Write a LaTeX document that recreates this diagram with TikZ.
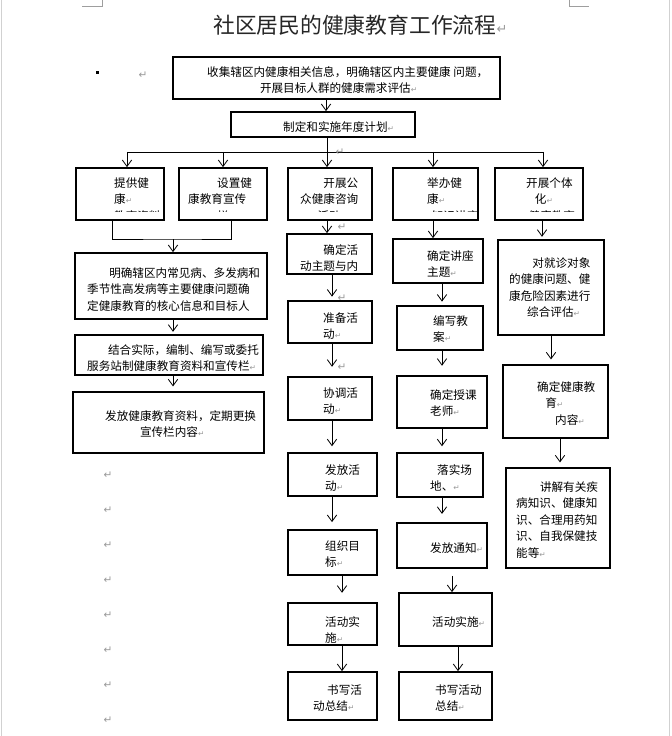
\documentclass[tikz,border=0pt]{standalone}
\usepackage{fontspec}
\setmainfont{Noto Sans CJK SC}
\newfontfamily\dvsans{DejaVu Sans}
\usetikzlibrary{arrows.meta,calc}
\newcommand\parmk{{\dvsans\fontsize{6.5pt}{6.5pt}\selectfont\color{black!40}↵}}
\newcommand\bigparmk{{\dvsans\fontsize{9pt}{9pt}\selectfont\color{black!40}↵}}
\tikzset{
  bx/.style={draw=black,line width=1.5pt,inner sep=0pt},
  sz/.style 2 args={minimum width=#1*0.03cm,minimum height=#2*0.03cm},
  tx/.style={font=\fontsize{9.9pt}{14pt}\selectfont,align=left,inner sep=0pt,anchor=north west},
  ln/.style={draw=black,line width=.8pt},
  arr/.style={draw=black,line width=.8pt,-{Straight Barb[length=5.5pt,width=8pt,line width=.7pt]}},
  pgedge/.style={draw=black!18,line width=1.4pt},
  crop/.style={draw=black!38,line width=.8pt},
}
\begin{document}
\begin{tikzpicture}[x=0.03cm,y=-0.03cm]
\useasboundingbox (0,0) rectangle (671,736);
% ---- page
\draw[pgedge] (1.5,0) -- (1.5,736) (669.5,0) -- (669.5,736);
\draw[crop] (82,6) -- (102,6) -- (102,0) (569,0) -- (569,6) -- (589,6);
\node[font=\fontsize{18.6pt}{20pt}\selectfont,text=black!85,anchor=west,inner sep=0pt] (title) at (213,25) {社区居民的健康教育工作流程{\dvsans\fontsize{11pt}{11pt}\selectfont\color{black!40}↵}};
\node[fill=black,inner sep=0pt,minimum size=0.09cm] (sq) at (97,73) {};
\node[inner sep=0pt] (sqm) at (143,75) {\bigparmk};
\foreach \y [count=\i] in {475,510,545,580,615,650,685,720}
  \node[inner sep=0pt] (pl\i) at (108,\y) {\bigparmk};

% ---- survey and plan
\node[bx,sz={327}{42}] (b1) at (336.5,78) {};
\node[tx] (b1t) at (207,66.5) {收集辖区内健康相关信息，明确辖区内主要健康 问题，\\\hspace*{4.55em}开展目标人群的健康需求评估\parmk};
\node[bx,sz={184}{25}] (b2) at (323,124.5) {};
\node[tx] (b2t) at (283,121.5) {制定和实施年度计划\parmk};
\draw[arr] (b1.south -| 326,0) -- (b2.north -| 326,0);
\coordinate (fork) at (327,152);
\draw[ln] (b2.south -| fork) -- (fork);
\draw[ln] (fork -| 127,0) -- (fork -| 543,0);

% ---- five kinds of work
\node[bx,sz={88}{52}] (c1) at (120,194) {};
\node[bx,sz={88}{52}] (c2) at (223,194) {};
\node[bx,sz={84}{52}] (c3) at (330,194) {};
\node[bx,sz={85}{52}] (c4) at (435.5,194) {};
\node[bx,sz={88}{52}] (c5) at (539,194) {};
\foreach \b/\x in {c1/127,c2/223,c3/327,c4/433,c5/543}
  \draw[arr] (fork -| \x,0) -- (\b.north -| \x,0);
% text boxes cut their last line off
\begin{scope}
  \clip ($(c1.south west)+(2,-9)$) rectangle ($(c1.north east)+(-2,2)$);
  \node[tx] (c1t) at (114,177.5) {提供健\\康\parmk\\教育资料};
\end{scope}
\begin{scope}
  \clip ($(c2.south west)+(2,-9)$) rectangle ($(c2.north east)+(-2,2)$);
  \node[tx] (c2t) at (188,177.5) {\hspace*{2.5em}设置健\\康教育宣传\\\hspace*{2.5em}栏};
\end{scope}
\begin{scope}
  \clip ($(c3.south west)+(2,-9)$) rectangle ($(c3.north east)+(-2,2)$);
  \node[tx] (c3t) at (300,177.5) {\hspace*{2em}开展公\\众健康咨询\\\hspace*{1.5em}活动};
\end{scope}
\begin{scope}
  \clip ($(c4.south west)+(2,-9)$) rectangle ($(c4.north east)+(-2,2)$);
  \node[tx] (c4t) at (427,177.5) {举办健\\康\parmk\\\hspace*{0.4em}知识讲座};
\end{scope}
\begin{scope}
  \clip ($(c5.south west)+(2,-9)$) rectangle ($(c5.north east)+(-2,2)$);
  \node[tx] (c5t) at (526,177.5) {开展个体\\\hspace*{0.75em}化\parmk\\\hspace*{0.2em}健康教育};
\end{scope}

% ---- materials and notice boards
\node[bx,sz={192}{66}] (m1) at (171,286) {};
\node[tx] (m1t) at (87,267.5) {\hspace*{1.9em}明确辖区内常见病、多发病和\\季节性高发病等主要健康问题确\\定健康教育的核心信息和目标人};
\node[bx,sz={188}{40}] (m2) at (169,355) {};
\node[tx] (m2t) at (87,344.5) {\hspace*{1.8em}结合实际，编制、编写或委托\\服务站制健康教育资料和宣传栏\parmk};
\node[bx,sz={191}{61}] (m3) at (168.5,422.5) {};
\node[tx] (m3t) at (105,410.5) {发放健康教育资料，定期更换\\\hspace*{3em}宣传栏内容\parmk};
\coordinate (join) at (173,239);
\draw[ln] (c1.south -| 112,0) |- (join) -| (c2.south -| 231,0);
\draw[arr] (join) -- (join |- m1.north);
\draw[arr,shorten >=2pt] (m1.south -| 173,0) -- (m2.north -| 173,0);
\draw[arr,shorten >=4pt] (m2.south -| 173,0) -- (m3.north -| 173,0);

% ---- consultation
\node[bx,sz={85}{40}] (d1) at (329.5,254) {};
\node[tx] (d1t) at (300,244.5) {\hspace*{2em}确定活\\动主题与内};
\node[bx,sz={84}{42}] (d2) at (330,322) {};
\node[tx] (d2t) at (323,312.5) {准备活\\动\parmk};
\node[bx,sz={84}{43}] (d3) at (330,398.5) {};
\node[tx] (d3t) at (323,387.5) {协调活\\动\parmk};
\node[bx,sz={89}{43}] (d4) at (332.5,474.5) {};
\node[tx] (d4t) at (325,464.5) {发放活\\动\parmk};
\node[bx,sz={89}{45}] (d5) at (332.5,552.5) {};
\node[tx] (d5t) at (325,540.5) {组织目\\标\parmk};
\node[bx,sz={89}{42}] (d6) at (332.5,624) {};
\node[tx] (d6t) at (325,616.5) {活动实\\施\parmk};
\node[bx,sz={89}{48}] (d7) at (332.5,696) {};
\node[tx] (d7t) at (313,684.5) {\hspace*{1.2em}书写活\\动总结\parmk};
\foreach \a/\b/\x/\g in {c3/d1/327/0pt,d1/d2/332/3pt,d2/d3/332/8pt,d3/d4/332/5pt,d4/d5/332/6pt,d5/d6/342/8pt,d6/d7/342/0pt}
  \draw[arr,shorten >=\g] (\a.south -| \x,0) -- (\b.north -| \x,0);
\foreach \x/\y [count=\i] in {340/152,342/227,342/298,342/367}
  \node[inner sep=0pt] (pa\i) at (\x,\y) {\bigparmk};

% ---- lectures
\node[bx,sz={90}{44}] (e1) at (438,261) {};
\node[tx] (e1t) at (427,250.5) {确定讲座\\主题\parmk};
\node[bx,sz={86}{44}] (e2) at (440,328) {};
\node[tx] (e2t) at (433,315.5) {编写教\\案\parmk};
\node[bx,sz={90}{52}] (e3) at (442,402) {};
\node[tx] (e3t) at (430,389.5) {确定授课\\老师\parmk};
\node[bx,sz={86}{44}] (e4) at (440,475) {};
\node[tx] (e4t) at (430,464.5) {\hspace*{0.6em}落实场\\地、\parmk};
\node[bx,sz={90}{45}] (e5) at (442,545.5) {};
\node[tx] (e5t) at (430,542.5) {发放通知\parmk};
\node[bx,sz={93}{53}] (e6) at (445.5,619.5) {};
\node[tx] (e6t) at (432,616.5) {活动实施\parmk};
\node[bx,sz={93}{48}] (e7) at (445.5,696) {};
\node[tx] (e7t) at (435,684.5) {书写活动\\总结\parmk};
\foreach \a/\b/\x/\s/\g in {c4/e1/433/0pt/0pt,e1/e2/442/0pt/3pt,e2/e3/442/0pt/8pt,e3/e4/442/0pt/5pt,e4/e5/442/0pt/7pt,e5/e6/452/6pt/0pt,e6/e7/458/0pt/0pt}
  \draw[arr,shorten <=\s,shorten >=\g] (\a.south -| \x,0) -- (\b.north -| \x,0);

% ---- individual education
\node[bx,sz={106}{95}] (k1) at (551,287.5) {};
\node[tx] (k1t) at (509,257.5) {\hspace*{2em}对就诊对象\\的健康问题、健\\康危险因素进行\\\hspace*{1.55em}综合评估\parmk};
\node[bx,sz={105}{73}] (k2) at (555.5,401.5) {};
\node[tx] (k2t) at (537,381.5) {确定健康教\\\hspace*{0.7em}育\parmk\\\hspace*{1.55em}内容\parmk};
\node[bx,sz={104}{100}] (k3) at (558,518) {};
\node[tx] (k3t) at (516,481.5) {\hspace*{2.05em}讲解有关疾\\病知识、健康知\\识、合理用药知\\识、自我保健技\\能等\parmk};
\foreach \a/\b/\x/\g in {c5/k1/542/2pt,k1/k2/551/4pt,k2/k3/560/4pt}
  \draw[arr,shorten >=\g] (\a.south -| \x,0) -- (\b.north -| \x,0);
\end{tikzpicture}
\end{document}
